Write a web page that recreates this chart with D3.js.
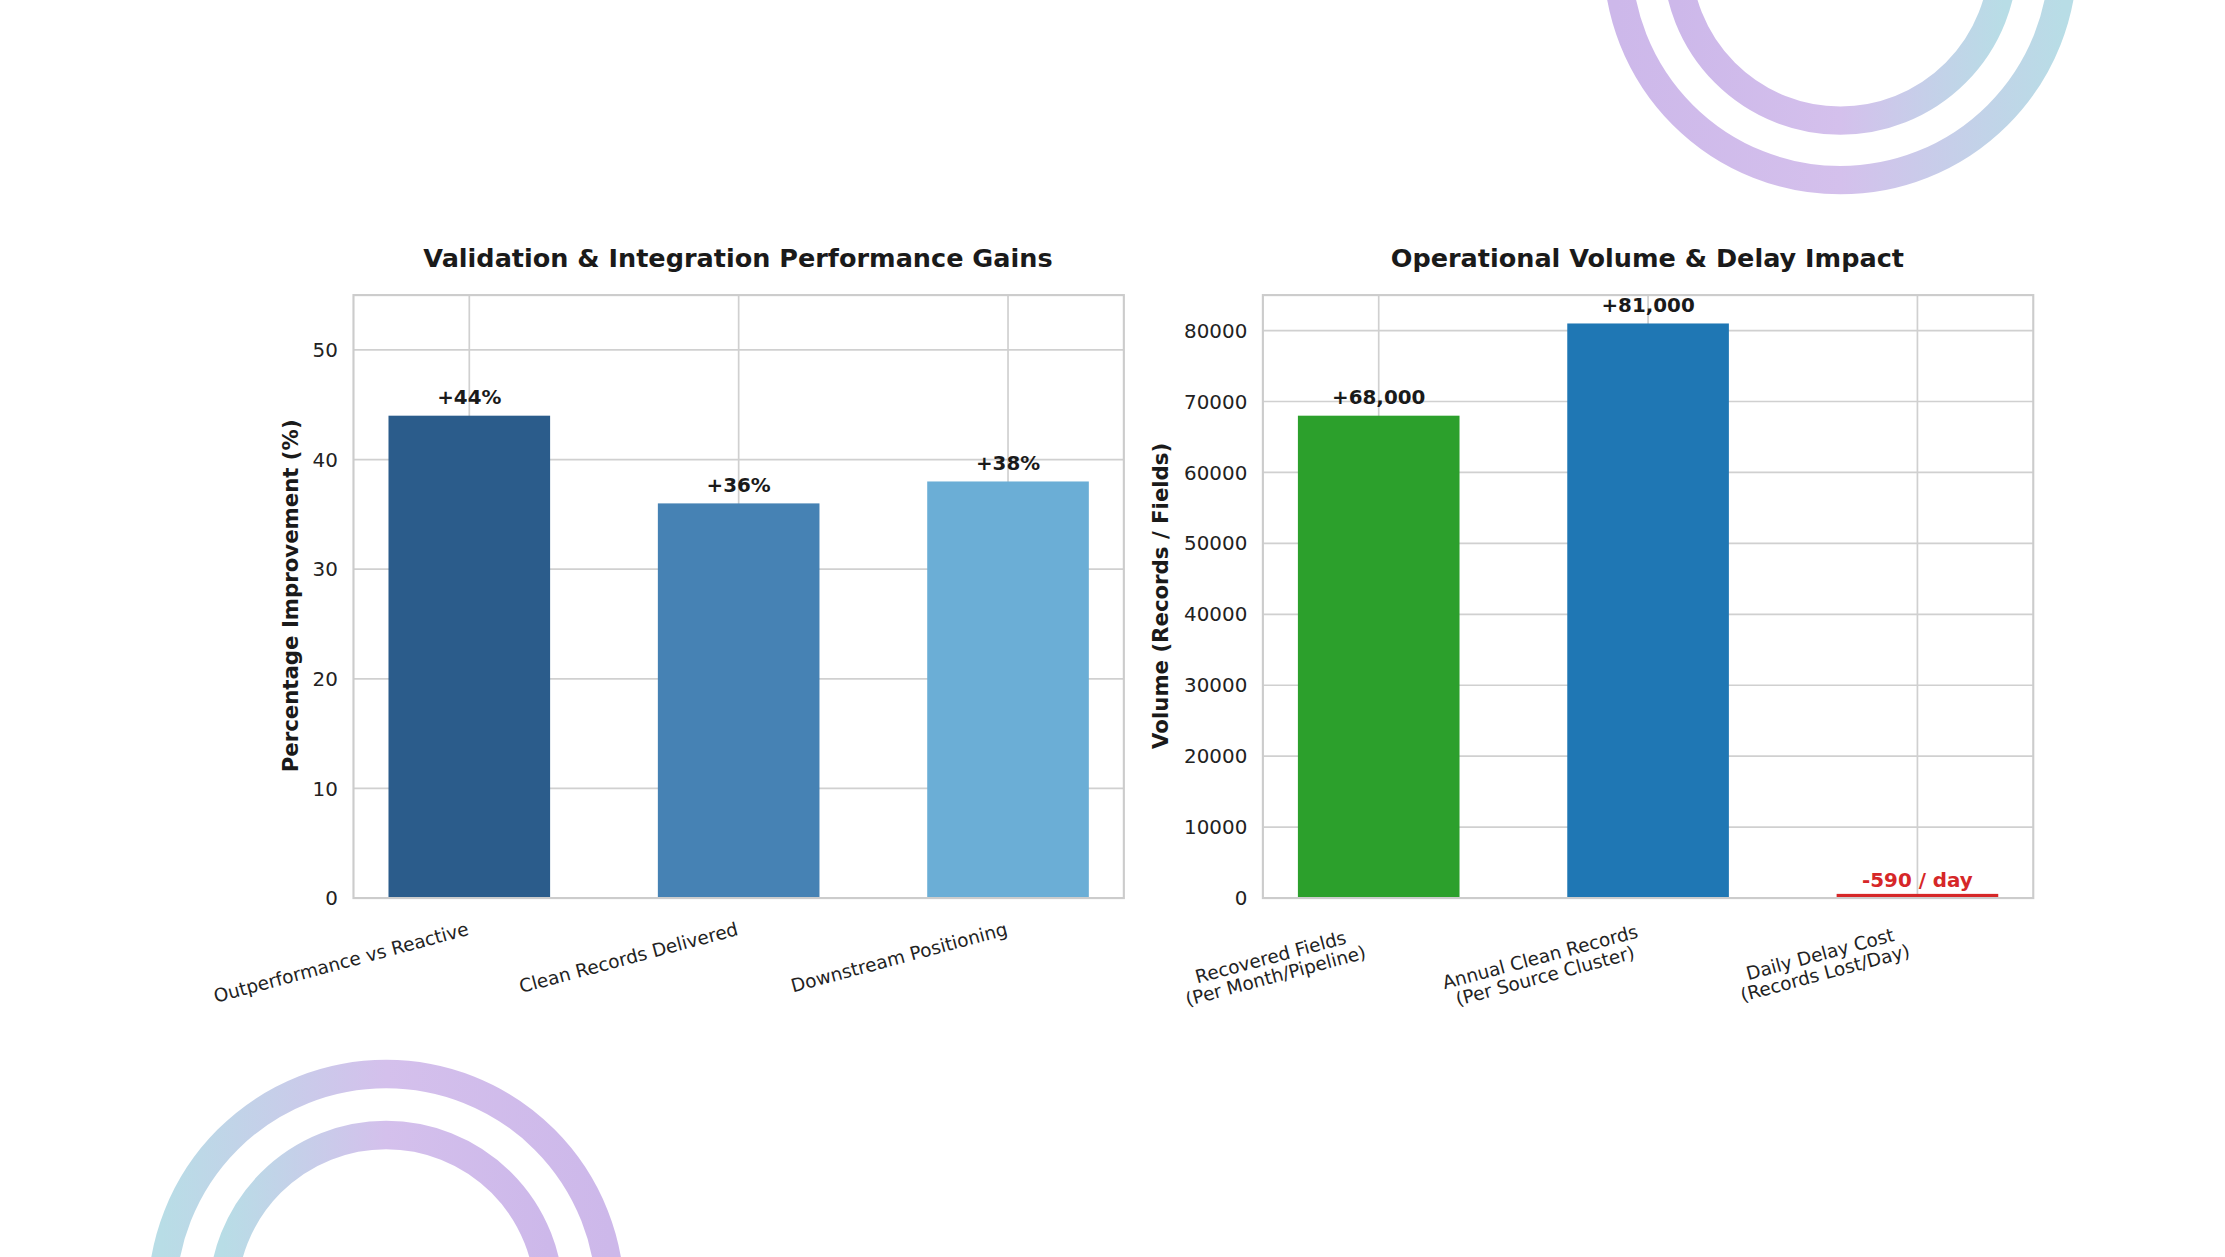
<!DOCTYPE html>
<html><head><meta charset="utf-8">
<script src="https://cdn.jsdelivr.net/npm/d3@7"></script>
<style>body{margin:0;background:#fff}svg{display:block;font-family:"DejaVu Sans",sans-serif}</style>
</head><body><svg id="chart" width="2225" height="1257" viewBox="0 0 1568 886"></svg>
<script>
// left panel
var leftCats = ["Outperformance vs Reactive", "Clean Records Delivered", "Downstream Positioning"];
var leftVals = [44, 36, 38];
var leftLabels = ["+44%", "+36%", "+38%"];
var leftColors = ["#2b5c8b", "#4682b4", "#6baed6"];
var leftTicks = [0, 10, 20, 30, 40, 50];
// right panel
var rightCats = [["Recovered Fields", "(Per Month/Pipeline)"], ["Annual Clean Records", "(Per Source Cluster)"], ["Daily Delay Cost", "(Records Lost/Day)"]];
var rightVals = [68000, 81000, -590];
var rightLabels = ["+68,000", "+81,000", "-590 / day"];
var rightColors = ["#2ca02c", "#1f77b4", "#d62728"];
var rightTicks = [0, 10000, 20000, 30000, 40000, 50000, 60000, 70000, 80000];

var svg = d3.select("#chart");
var defs = svg.append("defs");

function grad(id, c1, c2) {
    var g = defs.append("linearGradient").attr("id", id).attr("x1", "0%").attr("x2", "100%");
    g.append("stop").attr("offset", "0%").attr("stop-color", c1);
    g.append("stop").attr("offset", "50%").attr("stop-color", "#d4c0ec");
    g.append("stop").attr("offset", "100%").attr("stop-color", c2);
}
grad("gTop", "#cdb8ea", "#b8dde6");
grad("gBot", "#b8dde6", "#cdb8ea");

//decorative rings
function ring(cx, cy, r, gid) {
    svg.append("circle").attr("cx", cx).attr("cy", cy).attr("r", r)
        .attr("fill", "none").attr("stroke", "url(#" + gid + ")").attr("stroke-width", 20);
}
ring(1297, -30, 157, "gTop");
ring(1297, -30, 115, "gTop");
ring(272, 915, 158, "gBot");
ring(272, 915, 115, "gBot");

function panel(opt) {
    var x = d3.scaleLinear().domain([-0.43, 2.43]).range([opt.x0, opt.x0 + 543]);
    var y = d3.scaleLinear().domain([0, opt.ymax]).range([633, 208]);
    var g = svg.append("g");
    var bw = x(0.3) - x(-0.3);

    g.append("text").attr("x", opt.x0 + 271).attr("y", 188).attr("text-anchor", "middle")
        .attr("font-size", 18).attr("font-weight", "bold").attr("fill", "#1a1a1a").text(opt.title);

    // grid
    g.selectAll(".hg").data(opt.ticks).enter().append("line")
        .attr("x1", opt.x0).attr("x2", opt.x0 + 543).attr("y1", function(d) { return y(d); }).attr("y2", function(d) { return y(d); })
        .attr("stroke", "#d0d0d0").attr("stroke-width", 1.2);
    g.selectAll(".vg").data(opt.vals).enter().append("line")
        .attr("x1", function(d, i) { return x(i); }).attr("x2", function(d, i) { return x(i); })
        .attr("y1", 208).attr("y2", 633).attr("stroke", "#d0d0d0").attr("stroke-width", 1.2);

    // bars
    g.selectAll(".bar").data(opt.vals).enter().append("rect")
        .attr("x", function(d, i) { return x(i) - bw / 2; })
        .attr("y", function(d) { return y(Math.abs(d)); })
        .attr("width", bw)
        .attr("height", function(d) { return y(0) - y(Math.abs(d)); })
        .attr("fill", function(d, i) { return opt.colors[i]; });

    // frame
    g.append("rect").attr("x", opt.x0).attr("y", 208).attr("width", 543).attr("height", 425)
        .attr("fill", "none").attr("stroke", "#cccccc").attr("stroke-width", 1.5);

    // value labels
    g.selectAll(".vl").data(opt.vals).enter().append("text")
        .attr("x", function(d, i) { return x(i); })
        .attr("y", function(d) { return y(Math.max(d, 0)) - 8; })
        .attr("text-anchor", "middle").attr("font-size", 14).attr("font-weight", "bold")
        .attr("fill", function(d) { return d < 0 ? "#d62728" : "#1a1a1a"; })
        .text(function(d, i) { return opt.labels[i]; });

    // y ticks
    g.selectAll(".yt").data(opt.ticks).enter().append("text")
        .attr("x", opt.x0 - 11).attr("y", function(d) { return y(d) + 5; })
        .attr("text-anchor", "end").attr("font-size", 14).attr("fill", "#222").text(function(d) { return d; });

    g.append("text").attr("transform", "translate(" + opt.yLabX + ",420) rotate(-90)")
        .attr("text-anchor", "middle").attr("font-size", 15).attr("font-weight", "bold").attr("fill", "#1a1a1a")
        .text(opt.yLabel);

    // x tick labels
    opt.cats.forEach(function(c, i) {
        var lines = Array.isArray(c) ? c : [c];
        var t = g.append("text").attr("transform", "translate(" + (x(i) - 2) + ",650) rotate(-15)")
            .attr("font-size", 13).attr("fill", "#222");
        if (lines.length === 1) {
            t.attr("text-anchor", "end").append("tspan").attr("x", 0).attr("dy", "0.7em").text(lines[0]);
        } else {
            var w = Math.max(lines[0].length, lines[1].length) * 3.9;
            lines.forEach(function(l, k) {
                t.append("tspan").attr("text-anchor", "middle").attr("x", -w).attr("dy", k === 0 ? "0.7em" : "1.05em").text(l);
            });
        }
    });
}

panel({x0: 249, ymax: 55, vals: leftVals, labels: leftLabels, colors: leftColors, ticks: leftTicks, cats: leftCats,
    title: "Validation & Integration Performance Gains", yLabel: "Percentage Improvement (%)", yLabX: 210});
panel({x0: 890, ymax: 85000, vals: rightVals, labels: rightLabels, colors: rightColors, ticks: rightTicks, cats: rightCats,
    title: "Operational Volume & Delay Impact", yLabel: "Volume (Records / Fields)", yLabX: 823});
</script></body></html>
